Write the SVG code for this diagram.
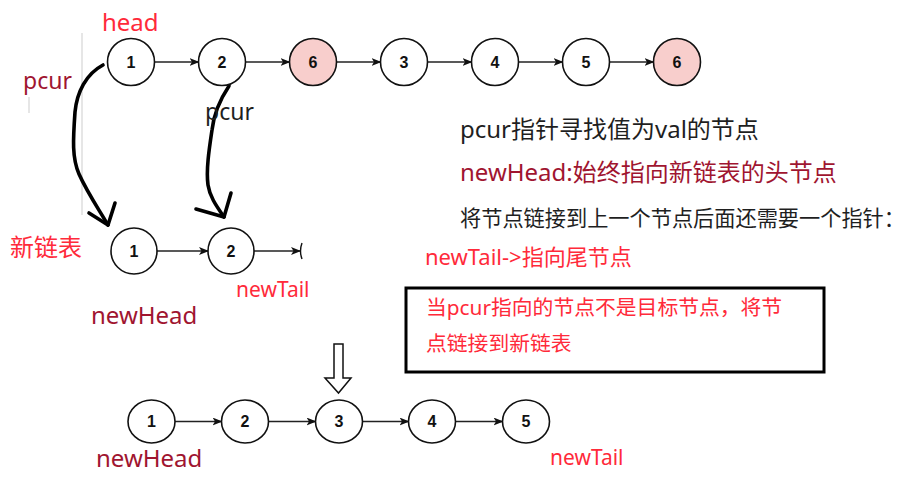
<svg xmlns="http://www.w3.org/2000/svg" width="912" height="494" viewBox="0 0 912 494">
  <style>
    .node circle, .node ellipse { fill: #ffffff; stroke: #111111; stroke-width: 1.6; }
    .node.hit circle { fill: #f8cecc; }
    .node text { font-family: "Liberation Sans", Arial, sans-serif; font-weight: bold; font-size: 16px; fill: #111111; text-anchor: middle; dominant-baseline: central; }
    .link { stroke: #222222; stroke-width: 1.3; fill: none; marker-end: url(#tip); }
    .pen { stroke: #000000; stroke-width: 3.6; fill: none; stroke-linecap: round; stroke-linejoin: round; }
    .t { font-family: "Noto Sans", "Noto Sans CJK SC", sans-serif; }
    .red { fill: #ff2a3a; }
    .dark { fill: #a01530; }
    .ink { fill: #1f1f1f; }
  </style>
  <defs>
    <marker id="tip" markerWidth="10" markerHeight="8" refX="9" refY="4" orient="auto" markerUnits="userSpaceOnUse">
      <path d="M0,0 L10,4 L0,8 L2.5,4 Z" fill="#111111"/>
    </marker>
  </defs>

  <rect width="912" height="494" fill="#ffffff"/>

  <!-- faint guide lines -->
  <line x1="82" y1="33" x2="82" y2="215" stroke="#e6e6e6" stroke-width="2"/>
  <line x1="29" y1="97" x2="29" y2="113" stroke="#e6e6e6" stroke-width="2"/>

  <!-- connectors -->
  <g id="connectors">
    <!-- original list -->
    <line class="link" x1="154.5" y1="62" x2="198.5" y2="62"/>
    <line class="link" x1="245.5" y1="62" x2="289.5" y2="62"/>
    <line class="link" x1="336.5" y1="62" x2="380.5" y2="62"/>
    <line class="link" x1="427.5" y1="62" x2="471.5" y2="62"/>
    <line class="link" x1="518.5" y1="62" x2="562.5" y2="62"/>
    <line class="link" x1="609.5" y1="62" x2="653.5" y2="62"/>
    <!-- new list -->
    <line class="link" x1="157" y1="251" x2="208" y2="251"/>
    <line class="link" x1="254" y1="251" x2="300" y2="251"/>
    <path d="M302,243 A23,23 0 0 0 302,259" fill="none" stroke="#111111" stroke-width="1.4"/>
    <!-- result list -->
    <line class="link" x1="175" y1="421.5" x2="221.5" y2="421.5"/>
    <line class="link" x1="268.5" y1="421.5" x2="315.5" y2="421.5"/>
    <line class="link" x1="362.5" y1="421.5" x2="408.5" y2="421.5"/>
    <line class="link" x1="455.5" y1="421.5" x2="502.5" y2="421.5"/>
    <!-- hand-drawn pcur arrows -->
    <path class="pen" d="M103,65 C86,74 77,92 75,112 C73,140 72,158 79,174 C87,192 98,208 108,225"/>
    <path class="pen" d="M89,213 L108,225 L115,203"/>
    <path class="pen" d="M229,86 C221,98 214,112 212,130 C209,150 206,170 208,185 C210,198 218,208 224,217"/>
    <path class="pen" d="M196,209 L224,217 L231,193"/>
    <!-- hollow down arrow -->
    <path d="M334,344 L343,344 L343,378 L351,378 L338.5,393 L325,378 L334,378 Z" fill="#ffffff" stroke="#111111" stroke-width="1.5" stroke-linejoin="miter"/>
  </g>

  <!-- original list nodes -->
  <g id="n1" class="node"><circle cx="131" cy="62" r="23.5"/><text x="131" y="62">1</text></g>
  <g id="n2" class="node"><circle cx="222" cy="62" r="23.5"/><text x="222" y="62">2</text></g>
  <g id="n3" class="node hit"><circle cx="313" cy="62" r="23.5"/><text x="313" y="62">6</text></g>
  <g id="n4" class="node"><circle cx="404" cy="62" r="23.5"/><text x="404" y="62">3</text></g>
  <g id="n5" class="node"><circle cx="495" cy="62" r="23.5"/><text x="495" y="62">4</text></g>
  <g id="n6" class="node"><circle cx="586" cy="62" r="23.5"/><text x="586" y="62">5</text></g>
  <g id="n7" class="node hit"><circle cx="677" cy="62" r="23.5"/><text x="677" y="62">6</text></g>

  <!-- new list nodes -->
  <g id="m1" class="node"><circle cx="134" cy="251" r="23"/><text x="134" y="251">1</text></g>
  <g id="m2" class="node"><circle cx="231" cy="251" r="23"/><text x="231" y="251">2</text></g>

  <!-- result list nodes -->
  <g id="r1" class="node"><ellipse cx="151.5" cy="421.5" rx="23.5" ry="21.5"/><text x="151.5" y="421.5">1</text></g>
  <g id="r2" class="node"><ellipse cx="245" cy="421.5" rx="23.5" ry="21.5"/><text x="245" y="421.5">2</text></g>
  <g id="r3" class="node"><ellipse cx="339" cy="421.5" rx="23.5" ry="21.5"/><text x="339" y="421.5">3</text></g>
  <g id="r4" class="node"><ellipse cx="432" cy="421.5" rx="23.5" ry="21.5"/><text x="432" y="421.5">4</text></g>
  <g id="r5" class="node"><ellipse cx="526" cy="421.5" rx="23.5" ry="21.5"/><text x="526" y="421.5">5</text></g>

  <!-- labels -->
  <g id="labels">
    <text class="t red" x="102" y="31" font-size="24">head</text>
    <text class="t dark" x="23" y="89" font-size="23">pcur</text>
    <text class="t ink" x="205" y="120" font-size="23">pcur</text>
    <text class="t red" x="10" y="256" font-size="24">新链表</text>
    <text class="t red" x="236" y="297" font-size="21">newTail</text>
    <text class="t dark" x="91" y="324" font-size="24">newHead</text>
    <text class="t dark" x="96" y="467" font-size="24">newHead</text>
    <text class="t red" x="550" y="465" font-size="21">newTail</text>
  </g>

  <!-- notes -->
  <g id="notes">
    <text class="t ink" x="460" y="138" font-size="24">pcur指针寻找值为val的节点</text>
    <text class="t dark" x="460" y="181" font-size="24">newHead:始终指向新链表的头节点</text>
    <text class="t ink" x="460" y="226" font-size="21.2">将节点链接到上一个节点后面还需要一个指针：</text>
    <text class="t red" x="425" y="265" font-size="22">newTail-&gt;指向尾节点</text>
  </g>

  <!-- boxed note -->
  <g id="box">
    <rect x="406" y="288" width="418" height="84" fill="#ffffff" stroke="#000000" stroke-width="3"/>
    <text class="t red" x="426" y="315" font-size="20.8">当pcur指向的节点不是目标节点，将节</text>
    <text class="t red" x="426" y="351" font-size="20.8">点链接到新链表</text>
  </g>
</svg>
